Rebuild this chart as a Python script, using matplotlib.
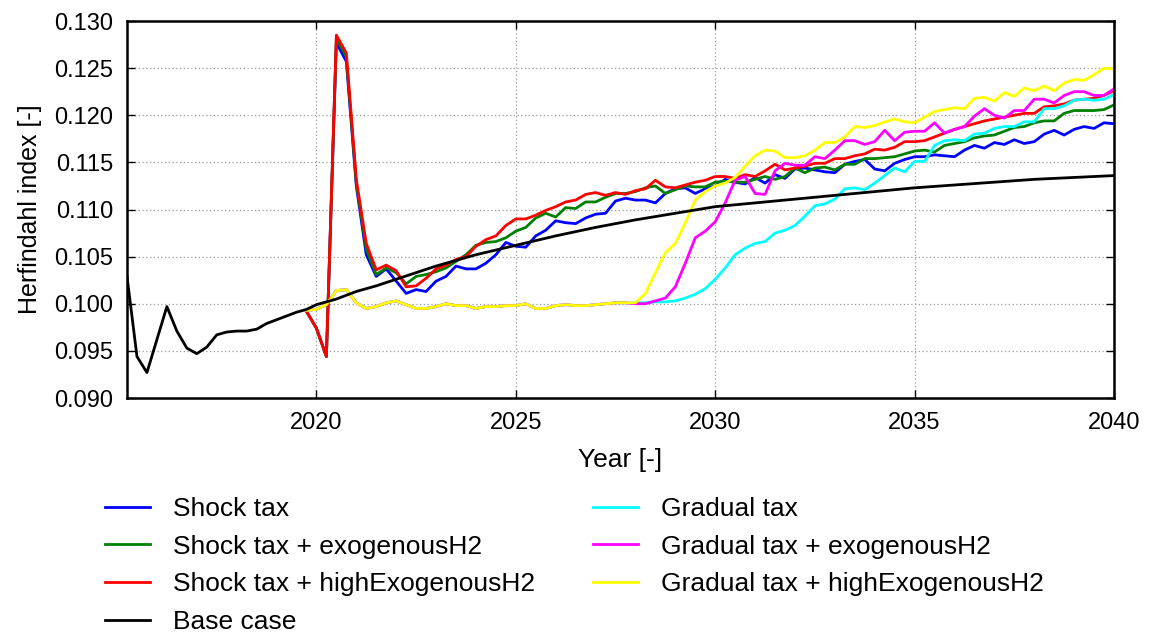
import matplotlib
matplotlib.use("Agg")
import matplotlib.pyplot as plt
import numpy as np

plt.rcParams['font.family'] = ['Liberation Sans', 'DejaVu Sans']

# Base case: quarterly history, smooth projection afterwards
base_years = [2015.25, 2015.5, 2015.75, 2016.0, 2016.25, 2016.5, 2016.75, 2017.0, 2017.25, 2017.5,
              2017.75, 2018.0, 2018.25, 2018.5, 2018.75, 2019.0, 2019.25, 2019.5, 2019.75, 2020.0,
              2020.5, 2021.0, 2021.5, 2022.0, 2022.5, 2023.0, 2023.5, 2024.0, 2024.5, 2025.0,
              2026.0, 2027.0, 2028.0, 2029.0, 2030.0, 2031.0, 2032.0, 2033.0, 2034.0, 2035.0,
              2036.0, 2037.0, 2038.0, 2039.0, 2040.0]
base_case = [0.1029, 0.0944, 0.0927, 0.0962, 0.0997, 0.0971, 0.0953, 0.0947, 0.0954, 0.0967,
             0.0970, 0.0971, 0.0971, 0.0973, 0.0979, 0.0983, 0.0987, 0.0991, 0.0994, 0.0999,
             0.1005, 0.1013, 0.1019, 0.1026, 0.1033, 0.1040, 0.1046, 0.1052, 0.1057, 0.1062,
             0.1072, 0.1081, 0.1089, 0.1096, 0.1103, 0.1107, 0.1111, 0.1115, 0.1119, 0.1123,
             0.1126, 0.1129, 0.1132, 0.1134, 0.1136]

# scenario series, quarterly from 2019.75 to 2040.00
scenario_start = 2019.75

shock_tax = [0.0992,
             0.0974, 0.0944, 0.1277, 0.1257,
             0.1125, 0.1052, 0.1029, 0.1037,
             0.1024, 0.1011, 0.1015, 0.1013,
             0.1024, 0.1029, 0.1040, 0.1037,
             0.1037, 0.1043, 0.1052, 0.1065,
             0.1061, 0.1060, 0.1072, 0.1078,
             0.1088, 0.1086, 0.1085, 0.1091,
             0.1095, 0.1096, 0.1109, 0.1112,
             0.1110, 0.1110, 0.1107, 0.1117,
             0.1122, 0.1123, 0.1117, 0.1122,
             0.1125, 0.1132, 0.1129, 0.1127,
             0.1134, 0.1128, 0.1137, 0.1133,
             0.1143, 0.1144, 0.1142, 0.1140,
             0.1139, 0.1148, 0.1151, 0.1153,
             0.1143, 0.1141, 0.1149, 0.1153,
             0.1156, 0.1156, 0.1158, 0.1157,
             0.1156, 0.1163, 0.1168, 0.1165,
             0.1171, 0.1169, 0.1174, 0.1170,
             0.1172, 0.1180, 0.1184, 0.1179,
             0.1185, 0.1188, 0.1186, 0.1192,
             0.1191]

shock_tax_exo = [0.0992,
                 0.0974, 0.0944, 0.1282, 0.1262,
                 0.1128, 0.1058, 0.1031, 0.1038,
                 0.1033, 0.1021, 0.1029, 0.1031,
                 0.1034, 0.1038, 0.1045, 0.1052,
                 0.1062, 0.1065, 0.1066, 0.1070,
                 0.1077, 0.1081, 0.1091, 0.1096,
                 0.1092, 0.1102, 0.1101, 0.1108,
                 0.1108, 0.1113, 0.1117, 0.1117,
                 0.1119, 0.1123, 0.1125, 0.1117,
                 0.1121, 0.1125, 0.1124, 0.1124,
                 0.1129, 0.1130, 0.1129, 0.1129,
                 0.1132, 0.1135, 0.1132, 0.1135,
                 0.1144, 0.1139, 0.1144, 0.1145,
                 0.1142, 0.1148, 0.1148, 0.1154,
                 0.1154, 0.1155, 0.1156, 0.1159,
                 0.1162, 0.1163, 0.1161, 0.1168,
                 0.1170, 0.1172, 0.1176, 0.1178,
                 0.1179, 0.1183, 0.1187, 0.1188,
                 0.1192, 0.1194, 0.1194, 0.1202,
                 0.1205, 0.1205, 0.1205, 0.1206,
                 0.1211]

shock_tax_high = [0.0992,
                  0.0974, 0.0944, 0.1285, 0.1266,
                  0.1132, 0.1064, 0.1036, 0.1041,
                  0.1035, 0.1018, 0.1019, 0.1027,
                  0.1037, 0.1041, 0.1047, 0.1050,
                  0.1061, 0.1068, 0.1072, 0.1083,
                  0.1090, 0.1090, 0.1094, 0.1099,
                  0.1103, 0.1108, 0.1110, 0.1116,
                  0.1118, 0.1115, 0.1118, 0.1116,
                  0.1120, 0.1122, 0.1131, 0.1124,
                  0.1123, 0.1126, 0.1129, 0.1131,
                  0.1135, 0.1135, 0.1133, 0.1137,
                  0.1135, 0.1141, 0.1148, 0.1142,
                  0.1144, 0.1146, 0.1149, 0.1149,
                  0.1154, 0.1154, 0.1157, 0.1159,
                  0.1164, 0.1163, 0.1166, 0.1172,
                  0.1172, 0.1173, 0.1177, 0.1181,
                  0.1185, 0.1188, 0.1191, 0.1194,
                  0.1196, 0.1198, 0.1200, 0.1202,
                  0.1202, 0.1209, 0.1210, 0.1212,
                  0.1216, 0.1217, 0.1218, 0.1221,
                  0.1226]

# the three gradual scenarios coincide until end of 2027
gradual_common = [0.0993,
                  0.0994, 0.0999, 0.1014, 0.1015,
                  0.1001, 0.0995, 0.0997, 0.1001,
                  0.1003, 0.0999, 0.0995, 0.0995,
                  0.0997, 0.1000, 0.0998, 0.0998,
                  0.0995, 0.0997, 0.0997, 0.0998,
                  0.0998, 0.1000, 0.0995, 0.0995,
                  0.0998, 0.0999, 0.0998, 0.0998,
                  0.0999, 0.1000, 0.1001, 0.1001]

gradual_tax_tail = [0.1001, 0.1001, 0.1002, 0.1002,
                    0.1003, 0.1006, 0.1010, 0.1016,
                    0.1026, 0.1038, 0.1052, 0.1059,
                    0.1064, 0.1066, 0.1075, 0.1078,
                    0.1083, 0.1093, 0.1104, 0.1106,
                    0.1111, 0.1122, 0.1123, 0.1121,
                    0.1128, 0.1136, 0.1144, 0.1140,
                    0.1151, 0.1151, 0.1168, 0.1173,
                    0.1174, 0.1173, 0.1180, 0.1181,
                    0.1186, 0.1188, 0.1188, 0.1193,
                    0.1193, 0.1207, 0.1207, 0.1210,
                    0.1216, 0.1217, 0.1216, 0.1217,
                    0.1222]

gradual_exo_tail = [0.1000, 0.1000, 0.1003, 0.1006,
                    0.1018, 0.1043, 0.1070, 0.1077,
                    0.1087, 0.1107, 0.1131, 0.1135,
                    0.1117, 0.1116, 0.1141, 0.1149,
                    0.1147, 0.1147, 0.1156, 0.1154,
                    0.1163, 0.1173, 0.1173, 0.1169,
                    0.1172, 0.1184, 0.1173, 0.1182,
                    0.1183, 0.1183, 0.1192, 0.1181,
                    0.1185, 0.1188, 0.1199, 0.1207,
                    0.1200, 0.1197, 0.1205, 0.1205,
                    0.1217, 0.1217, 0.1213, 0.1221,
                    0.1225, 0.1225, 0.1221, 0.1221,
                    0.1228]

gradual_high_tail = [0.1001, 0.1011, 0.1033, 0.1054,
                     0.1064, 0.1086, 0.1110, 0.1119,
                     0.1125, 0.1128, 0.1134, 0.1146,
                     0.1157, 0.1163, 0.1162, 0.1155,
                     0.1155, 0.1157, 0.1163, 0.1171,
                     0.1171, 0.1177, 0.1188, 0.1187,
                     0.1189, 0.1193, 0.1196, 0.1193,
                     0.1192, 0.1198, 0.1204, 0.1206,
                     0.1208, 0.1207, 0.1218, 0.1219,
                     0.1215, 0.1224, 0.1220, 0.1229,
                     0.1226, 0.1231, 0.1226, 0.1234,
                     0.1238, 0.1237, 0.1243, 0.1250,
                     0.1249]

gradual_tax = gradual_common + gradual_tax_tail
gradual_tax_exo = gradual_common + gradual_exo_tail
gradual_tax_high = gradual_common + gradual_high_tail

x_ticks = [2020, 2025, 2030, 2035, 2040]
y_ticks = [0.090, 0.095, 0.100, 0.105, 0.110, 0.115, 0.120, 0.125, 0.130]


def quarterly(values):
    return scenario_start + 0.25 * np.arange(len(values))


fig = plt.figure(figsize=(11.53, 6.33), dpi=100)
ax = fig.add_axes([127 / 1153, 1 - 398 / 633, (1114 - 127) / 1153, (398 - 21) / 633])

lw = 2.0
series = [
    ("Shock tax", shock_tax, "#0000ff"),
    ("Shock tax + exogenousH2", shock_tax_exo, "#008000"),
    ("Shock tax + highExogenousH2", shock_tax_high, "#ff0000"),
    ("Gradual tax", gradual_tax, "#00ffff"),
    ("Gradual tax + exogenousH2", gradual_tax_exo, "#ff00ff"),
    ("Gradual tax + highExogenousH2", gradual_tax_high, "#ffff00"),
]
handles = {}
for label, vals, color in series:
    handles[label], = ax.plot(quarterly(vals), vals, color=color, lw=lw, label=label)
handles["Base case"], = ax.plot(base_years, base_case, color="black", lw=lw, label="Base case")

ax.set_xlim(2015.25, 2040)
ax.set_ylim(0.090, 0.130)
ax.set_xticks(x_ticks)
ax.set_yticks(y_ticks)
ax.set_yticklabels([f"{v:.3f}" for v in y_ticks])
ax.grid(True, color="#999999", linestyle=(0, (1, 2)), linewidth=0.9)
ax.tick_params(direction="in", length=6, width=1, top=True, right=True, labelsize=17, pad=10)
for sp in ax.spines.values():
    sp.set_linewidth(1.8)

ax.set_xlabel("Year [-]", fontsize=19, labelpad=10)
ax.set_ylabel("Herfindahl index [-]", fontsize=18, labelpad=9)

order = ["Shock tax", "Shock tax + exogenousH2", "Shock tax + highExogenousH2", "Base case",
         "Gradual tax", "Gradual tax + exogenousH2", "Gradual tax + highExogenousH2"]
fig.legend([handles[k] for k in order], order, ncol=2, loc="upper left",
           bbox_to_anchor=(105 / 1153, 1 - 497 / 633), frameon=False, fontsize=19,
           handlelength=1.7, handletextpad=0.87, columnspacing=2.2, labelspacing=0.52,
           borderpad=0, borderaxespad=0)

fig.savefig("out.png", dpi=100)
